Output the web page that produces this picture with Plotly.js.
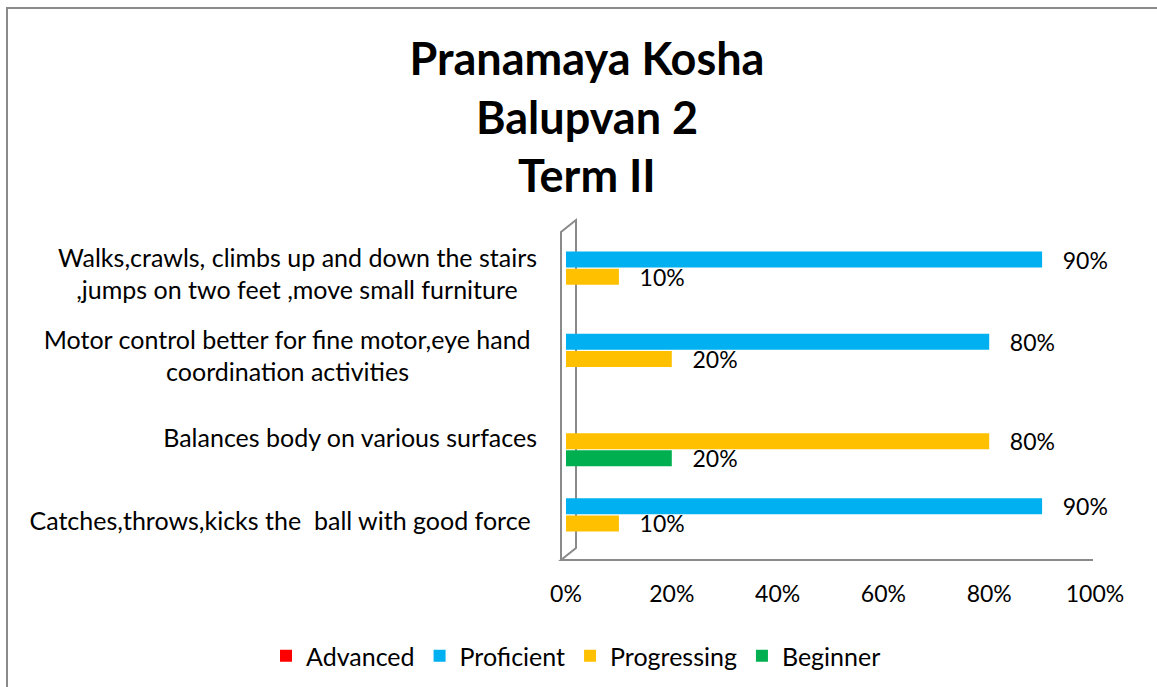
<!DOCTYPE html>
<html>
<head>
<meta charset="utf-8">
<script src="https://cdn.plot.ly/plotly-3.0.1.min.js"></script>
<style>
html,body{margin:0;padding:0;background:#fff;}
#frame{position:absolute;left:6px;top:7px;width:1160px;height:690px;border-left:2px solid #8a8a8a;border-top:2px solid #8a8a8a;}
#chart{position:absolute;left:0;top:0;width:1157px;height:687px;}
</style>
</head>
<body>
<div id="frame"></div>
<div id="chart"></div>
<script>
// Categories, bottom to top as drawn
const categories = [
  "Catches,throws,kicks the  ball with good force",
  "Balances body on various surfaces",
  "Motor control better for fine motor,eye hand coordination activities",
  "Walks,crawls, climbs up and down the stairs ,jumps on two feet ,move small furniture"
];
const tickLabels = [
  "Catches,throws,kicks the  ball with good force\u00a0",
  "Balances body on various surfaces",
  "Motor control better for fine motor,eye hand\u00a0<br>coordination activities" + "\u00a0".repeat(20),
  "Walks,crawls, climbs up and down the stairs<br>,jumps on two feet ,move small furniture\u00a0\u00a0\u00a0"
];
const seriesNames = ["Advanced", "Proficient", "Progressing", "Beginner"];
const seriesColors = ["#FF0000", "#00B0F0", "#FFC000", "#00B050"];
const advanced    = [0, 0, 0, 0];
const proficient  = [90, 0, 80, 90];
const progressing = [10, 80, 20, 10];
const beginner    = [0, 20, 0, 0];
const xTicks = [0, 20, 40, 60, 80, 100];

const seriesValues = [advanced, proficient, progressing, beginner];
const font = "Lato, 'Open Sans', sans-serif";

// Plotly stacks grouped horizontal bars bottom-up, so add them in reverse
const traces = [];
for (let i = seriesNames.length - 1; i >= 0; i--) {
  const vals = seriesValues[i];
  traces.push({
    type: "bar",
    orientation: "h",
    name: seriesNames[i],
    y: categories,
    x: vals,
    marker: {color: seriesColors[i], line: {width: 0}},
    text: vals.map(v => v > 0 ? "\u00a0\u00a0\u00a0" + v + "%" : ""),
    textposition: "outside",
    constraintext: "none",
    cliponaxis: false,
    textfont: {family: font, size: 23, color: "#000"},
    hoverinfo: "x+name"
  });
}

// 3D wall/floor decoration in paper coordinates (plot area 566..1095 x, 227..556 y)
const L = 566, R = 1095, T = 227, B = 556, W = 1157, H = 687;
const px = x => (x - L) / (R - L);
const py = y => (B - y) / (B - T);
const wallColor = "#8a8a8a";
const shapes = [
  {type: "path", xref: "paper", yref: "paper",
   path: `M ${px(561)} ${py(560)} L ${px(561)} ${py(232)} L ${px(576)} ${py(220)} L ${px(576)} ${py(548)} L ${px(561)} ${py(560)} L ${px(1093)} ${py(560)}`,
   line: {color: wallColor, width: 2}, fillcolor: "rgba(0,0,0,0)", layer: "below"}
];

const titleFont = {family: font, size: 45, color: "#000"};
const layout = {
  width: W, height: H,
  margin: {l: L, r: W - R, t: T, b: H - B, pad: 0, autoexpand: false},
  paper_bgcolor: "rgba(0,0,0,0)",
  plot_bgcolor: "rgba(0,0,0,0)",
  font: {family: font, size: 23, color: "#000"},
  title: {text: "<b>Pranamaya Kosha</b>", font: titleFont,
          x: 587 / W, xanchor: "center", yref: "container", y: 1 - 59 / H, yanchor: "middle"},
  annotations: [
    {text: "<b>Balupvan 2</b>", xref: "paper", yref: "paper", x: px(587), y: py(117),
     xanchor: "center", yanchor: "middle", showarrow: false, font: titleFont},
    {text: "<b>Term II</b>", xref: "paper", yref: "paper", x: px(587), y: py(175),
     xanchor: "center", yanchor: "middle", showarrow: false, font: titleFont}
  ],
  barmode: "group",
  bargap: 0.17,
  bargroupgap: 0.06,
  xaxis: {
    range: [0, 100], tickvals: xTicks, ticktext: xTicks.map(v => v + "%"),
    showgrid: false, zeroline: false, showline: false, ticks: "",
    ticklabelstandoff: 22, automargin: false,
    tickfont: {family: font, size: 23, color: "#000"},
    fixedrange: true
  },
  yaxis: {
    type: "category", categoryorder: "array", categoryarray: categories,
    tickvals: categories, ticktext: tickLabels,
    showgrid: false, zeroline: false, showline: false, ticks: "",
    ticklabelstandoff: 28, ticklabelshift: 6, automargin: false,
    tickfont: {family: font, size: 25, color: "#000"},
    fixedrange: true
  },
  shapes: shapes,
  showlegend: true,
  legend: {orientation: "h", traceorder: "reversed",
           x: px(266), xanchor: "left",
           y: py(656), yanchor: "middle",
           font: {family: font, size: 25, color: "#000"},
           bgcolor: "rgba(0,0,0,0)"}
};

Plotly.newPlot("chart", traces, layout, {displayModeBar: false, staticPlot: true});
</script>
</body>
</html>
